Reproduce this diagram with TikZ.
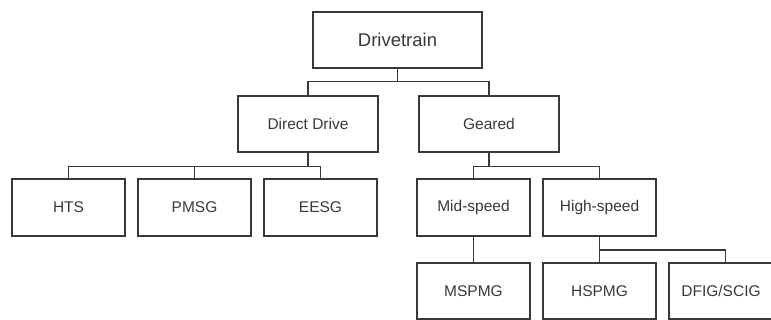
\documentclass[tikz,border=0pt]{standalone}
\usepackage{fontspec}
\setmainfont{Liberation Sans}
\begin{document}
\begin{tikzpicture}[x=1pt,y=-1pt,
  box/.style={draw=black!78, line width=1.3pt, rectangle, minimum width=113pt, minimum height=57pt, inner sep=0pt, text=black!78, font=\fontsize{15.5}{18}\selectfont},
  wire/.style={draw=black!78, line width=1.3pt}]
\useasboundingbox (0,0) rectangle (771,320);
\node[box, minimum width=169pt, minimum height=56pt, font=\fontsize{18.5}{22}\selectfont] (dt) at (397.5,40) {Drivetrain};
\node[box, minimum width=140pt, minimum height=56pt] (dd) at (308,124) {Direct Drive};
\node[box, minimum width=140pt, minimum height=56pt] (ge) at (489,124) {Geared};
\node[box] (hts) at (68.5,207.5) {HTS};
\node[box] (pmsg) at (194.5,207.5) {PMSG};
\node[box] (eesg) at (320.5,207.5) {EESG};
\node[box] (mid) at (473.5,207.5) {Mid-speed};
\node[box] (high) at (599.5,207.5) {High-speed};
\node[box, minimum height=56pt] (ms) at (473.5,291) {MSPMG};
\node[box, minimum height=56pt] (hs) at (599.5,291) {HSPMG};
\node[box, minimum height=56pt, minimum width=116pt] (df) at (727,291) {DFIG/SCIG\hspace*{12pt}};
\draw[wire] (dt.south) -- ++(0,13) -| (dd.north);
\draw[wire] (dt.south) -- ++(0,13) -| (ge.north);
\draw[wire] (dd.south) -- ++(0,14) -| (hts.north);
\draw[wire] (dd.south) -- ++(0,14) -| (pmsg.north);
\draw[wire] (dd.south) -- ++(0,14) -| (eesg.north);
\draw[wire] (ge.south) -- ++(0,14) -| (mid.north);
\draw[wire] (ge.south) -- ++(0,14) -| (high.north);
\draw[wire] (mid.south) -- (ms.north);
\draw[wire] (high.south) -- ++(0,13.5) -| (hs.north);
\draw[wire] (high.south) -- ++(0,13.5) -| ([xshift=-1.5pt]df.north);
\end{tikzpicture}
\end{document}
